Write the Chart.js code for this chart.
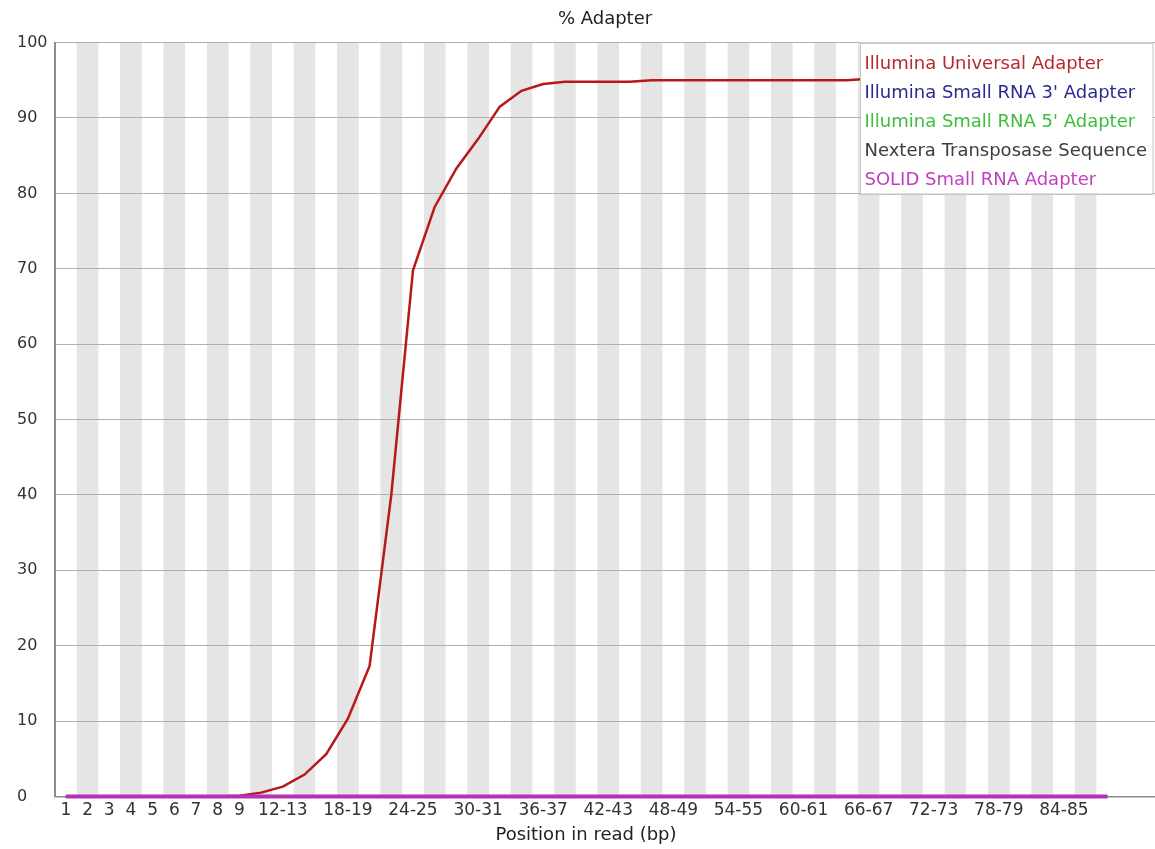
<!DOCTYPE html>
<html>
<head>
<meta charset="utf-8">
<title>% Adapter</title>
<script src="https://cdn.jsdelivr.net/npm/chart.js@4.4.1/dist/chart.umd.min.js"></script>
<style>
  html, body { margin: 0; padding: 0; background: #fff; }
  #chart { display: block; }
</style>
</head>
<body>
<canvas id="chart" width="1155" height="849"></canvas>
<script>
// bins of the read, as FastQC groups them
const positions = ['1', '2', '3', '4', '5', '6', '7', '8', '9',
  '10-11', '12-13', '14-15', '16-17', '18-19', '20-21', '22-23', '24-25', '26-27', '28-29',
  '30-31', '32-33', '34-35', '36-37', '38-39', '40-41', '42-43', '44-45', '46-47', '48-49',
  '50-51', '52-53', '54-55', '56-57', '58-59', '60-61', '62-63', '64-65', '66-67', '68-69',
  '70-71', '72-73', '74-75', '76-77', '78-79', '80-81', '82-83', '84-85', '86-87', '88-89'];

// only these get a label under the axis
const xTickLabels = ['1', '2', '3', '4', '5', '6', '7', '8', '9', '12-13', '18-19', '24-25',
  '30-31', '36-37', '42-43', '48-49', '54-55', '60-61', '66-67', '72-73', '78-79', '84-85'];

const universalAdapter = [0, 0, 0, 0, 0, 0, 0, 0, 0.1,
  0.5, 1.3, 2.9, 5.6, 10.3, 17.3, 40.0, 69.8, 78.2, 83.3,
  87.2, 91.5, 93.6, 94.5, 94.8, 94.8, 94.8, 94.8, 95.0, 95.0,
  95.0, 95.0, 95.0, 95.0, 95.0, 95.0, 95.0, 95.0, 95.2, 95.2,
  95.2, 95.2, 95.2, 95.2, 95.3, 95.3, 95.3, 95.3, 95.3, 95.3];
const smallRna3Adapter = [0, 0, 0, 0, 0, 0, 0, 0, 0, 0, 0, 0, 0, 0, 0, 0, 0, 0, 0, 0, 0, 0, 0, 0, 0,
  0, 0, 0, 0, 0, 0, 0, 0, 0, 0, 0, 0, 0, 0, 0, 0, 0, 0, 0, 0, 0, 0, 0, 0];
const smallRna5Adapter = [0, 0, 0, 0, 0, 0, 0, 0, 0, 0, 0, 0, 0, 0, 0, 0, 0, 0, 0, 0, 0, 0, 0, 0, 0,
  0, 0, 0, 0, 0, 0, 0, 0, 0, 0, 0, 0, 0, 0, 0, 0, 0, 0, 0, 0, 0, 0, 0, 0];
const nexteraSequence = [0, 0, 0, 0, 0, 0, 0, 0, 0, 0, 0, 0, 0, 0, 0, 0, 0, 0, 0, 0, 0, 0, 0, 0, 0,
  0, 0, 0, 0, 0, 0, 0, 0, 0, 0, 0, 0, 0, 0, 0, 0, 0, 0, 0, 0, 0, 0, 0, 0];
const solidAdapter = [0, 0, 0, 0, 0, 0, 0, 0, 0, 0, 0, 0, 0, 0, 0, 0, 0, 0, 0, 0, 0, 0, 0, 0, 0,
  0, 0, 0, 0, 0, 0, 0, 0, 0, 0, 0, 0, 0, 0, 0, 0, 0, 0, 0, 0, 0, 0, 0, 0];

const FONT = '"DejaVu Sans", sans-serif';

const toPoints = (values) => values.map((y, i) => ({ x: i, y }));

// grey bands behind every other bin
const stripes = {
  id: 'stripes',
  beforeDraw(chart) {
    const { ctx, chartArea, scales: { x } } = chart;
    ctx.save();
    ctx.fillStyle = '#e5e5e5';
    positions.forEach((p, i) => {
      if (i % 2 === 1) {
        const l = x.getPixelForValue(i - 0.5);
        const r = x.getPixelForValue(i + 0.5);
        ctx.fillRect(l, chartArea.top, r - l, chartArea.bottom - chartArea.top);
      }
    });
    ctx.restore();
  }
};

// FastQC style key: white box in the top right corner, coloured names only
const legendBox = {
  id: 'legendBox',
  afterDraw(chart) {
    const { ctx, chartArea } = chart;
    const sets = chart.data.datasets;
    ctx.save();
    ctx.font = '18px ' + FONT;
    const w = Math.max(...sets.map(d => ctx.measureText(d.label).width)) + 10;
    const rowH = 29;
    const h = sets.length * rowH + 6;
    const left = chart.width - 2 - w;
    const top = chartArea.top;
    ctx.fillStyle = '#fff';
    ctx.fillRect(left, top, w, h);
    ctx.strokeStyle = '#c4c4c4';
    ctx.lineWidth = 1;
    ctx.strokeRect(Math.round(left) + 0.5, Math.round(top) + 0.5, w, h);
    ctx.textBaseline = 'middle';
    sets.forEach((d, i) => {
      ctx.fillStyle = d.textColor;
      ctx.fillText(d.label, left + 4, top + 22 + i * rowH);
    });
    ctx.restore();
  }
};

const ctx = document.getElementById('chart').getContext('2d');

new Chart(ctx, {
  type: 'line',
  data: {
    datasets: [
      { label: 'Illumina Universal Adapter', data: toPoints(universalAdapter), borderColor: '#b81818', textColor: '#b82a2a', borderWidth: 2.5, order: 4 },
      { label: "Illumina Small RNA 3' Adapter", data: toPoints(smallRna3Adapter), borderColor: '#2a2a90', textColor: '#2a2a90', borderWidth: 2, order: 3 },
      { label: "Illumina Small RNA 5' Adapter", data: toPoints(smallRna5Adapter), borderColor: '#3cbe3c', textColor: '#3cbe3c', borderWidth: 2, order: 2 },
      { label: 'Nextera Transposase Sequence', data: toPoints(nexteraSequence), borderColor: '#3c3c3c', textColor: '#3c3c3c', borderWidth: 2, order: 1 },
      { label: 'SOLID Small RNA Adapter', data: toPoints(solidAdapter), borderColor: '#b433b4', textColor: '#c040c0', borderWidth: 4, order: 0 }
    ]
  },
  options: {
    responsive: false,
    animation: false,
    clip: false,
    layout: { padding: { left: 17, right: 0, top: 0, bottom: 0 } },
    elements: { point: { radius: 0 }, line: { tension: 0 } },
    plugins: {
      legend: { display: false },
      tooltip: { enabled: false },
      title: {
        display: true,
        text: '% Adapter',
        fullSize: false,
        color: '#222',
        font: { family: FONT, size: 18, weight: 'normal' },
        padding: { top: 9, bottom: 12 }
      },
      subtitle: {
        display: true,
        position: 'bottom',
        text: 'Position in read (bp)',
        color: '#222',
        font: { family: FONT, size: 18, weight: 'normal' },
        padding: { top: 4, bottom: 3 }
      }
    },
    scales: {
      x: {
        type: 'linear',
        min: -0.5,
        max: 50.2,
        grid: { display: false, drawTicks: false },
        border: { color: '#8c8c8c', width: 1.5 },
        afterBuildTicks: (scale) => { scale.ticks = positions.map((p, i) => ({ value: i })); },
        afterFit: (scale) => { scale.height = 24; },
        ticks: {
          autoSkip: false,
          maxRotation: 0,
          padding: 4,
          color: '#333',
          font: { family: FONT, size: 17 },
          callback: (v) => xTickLabels.includes(positions[v]) ? positions[v] : ''
        }
      },
      y: {
        min: 0,
        max: 100,
        afterFit: (scale) => { scale.width = 38; },
        grid: { color: '#b0b0b0', lineWidth: 1, drawTicks: false },
        border: { color: '#8c8c8c', width: 2 },
        ticks: {
          stepSize: 10,
          crossAlign: 'far',
          padding: 0,
          color: '#333',
          font: { family: FONT, size: 16 }
        }
      }
    }
  },
  plugins: [stripes, legendBox]
});
</script>
</body>
</html>
